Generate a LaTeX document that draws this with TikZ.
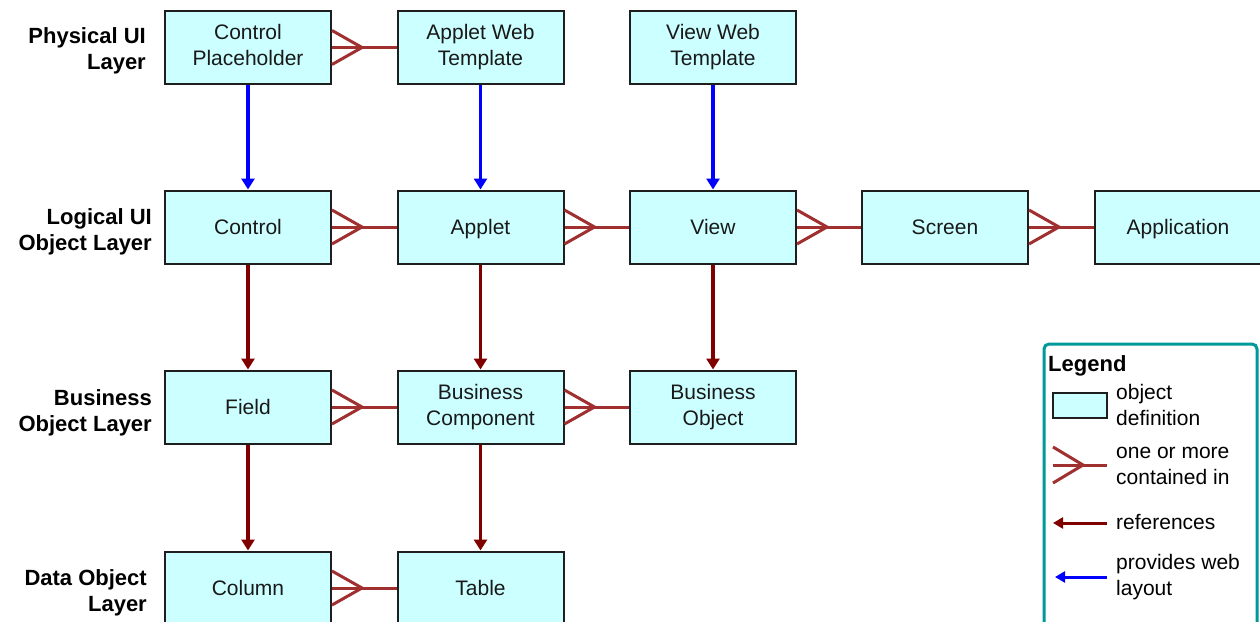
\documentclass[tikz,border=0pt]{standalone}
\usepackage{fontspec}
\setmainfont{Liberation Sans}
\usetikzlibrary{arrows.meta,calc}
\definecolor{boxfill}{RGB}{204,255,255}
\definecolor{boxline}{RGB}{30,30,30}
\definecolor{crowc}{RGB}{160,48,48}
\definecolor{refc}{RGB}{128,0,0}
\definecolor{webc}{RGB}{0,0,255}
\definecolor{legc}{RGB}{0,153,153}
\newcommand\crowfoot[2]{%
  \draw[crow] (#1.east) -- (#2.west);
  \draw[crow] ($(#1.east)+(0,-17)$) -- ($(#1.east)+(30,0)$) -- ($(#1.east)+(0,17)$);}
\begin{document}
\begin{tikzpicture}[x=1pt,y=-1pt,
  obj/.style={draw=boxline,line width=2pt,fill=boxfill,minimum width=166pt,minimum height=73pt,
    inner sep=0pt,align=center,text=black!90,font=\fontsize{21}{26}\selectfont},
  oneline/.style={text height=15.6pt,text depth=0pt},
  layer/.style={anchor=east,align=right,inner sep=0pt,font=\fontsize{22}{26}\selectfont\bfseries},
  legtext/.style={anchor=west,align=left,inner sep=0pt,font=\fontsize{21}{26}\selectfont},
  crow/.style={draw=crowc,line width=3pt,line join=miter},
  refarrow/.style={draw=refc,line width=3.5pt,-{Triangle[width=13pt,length=11pt]}},
  webarrow/.style={draw=webc,line width=3.5pt,-{Triangle[width=13pt,length=11pt]}},
]
\useasboundingbox (0,0) rectangle (1260,621);
\clip (0,0) rectangle (1260,621);
\fill[white] (0,0) rectangle (1260,621);

% layer labels
\node[layer] (l1) at (146,51) {Physical UI\\Layer};
\node[layer] (l2) at (152,231.5) {Logical UI\\Object Layer};
\node[layer] (l3) at (152,412.5) {Business\\Object Layer};
\node[layer] (l4) at (147,592.5) {Data Object\\Layer};

% boxes
\node[obj] (cph) at (248,47.5) {Control\\Placeholder\vphantom{p}};
\node[obj] (awt) at (480.5,47.5) {Applet Web\\Template};
\node[obj] (vwt) at (713,47.5) {View Web\\Template};
\node[obj,oneline] (ctl) at (248,227) {Control};
\node[obj,oneline] (apl) at (480.5,227) {Applet};
\node[obj,oneline] (vie) at (713,227) {View};
\node[obj,oneline] (scr) at (945,227) {Screen};
\node[obj,oneline,minimum width=170pt] (app) at (1180,227) {\hspace*{-4pt}Application};
\node[obj,oneline] (fld) at (248,407) {Field};
\node[obj] (bc) at (480.5,407) {Business\\Component};
\node[obj] (bo) at (713,407) {Business\\Object};
\node[obj,oneline] (col) at (248,588) {Column};
\node[obj,oneline] (tab) at (480.5,588) {Table};

% web layout arrows
\draw[webarrow] (cph.south) -- (ctl.north);
\draw[webarrow] (awt.south) -- (apl.north);
\draw[webarrow] (vwt.south) -- (vie.north);
% references
\draw[refarrow] (ctl.south) -- (fld.north);
\draw[refarrow] (apl.south) -- (bc.north);
\draw[refarrow] (vie.south) -- (bo.north);
\draw[refarrow] (fld.south) -- (col.north);
\draw[refarrow] (bc.south) -- (tab.north);
% contained in
\crowfoot{cph}{awt}
\crowfoot{ctl}{apl}
\crowfoot{apl}{vie}
\crowfoot{vie}{scr}
\crowfoot{scr}{app}
\crowfoot{fld}{bc}
\crowfoot{bc}{bo}
\crowfoot{col}{tab}

% legend
\draw[draw=legc,line width=3pt,rounded corners=5pt,fill=white] (1044,344) rectangle (1257,700);
\node[anchor=west,inner sep=0pt,font=\fontsize{22}{26}\selectfont\bfseries] (lg) at (1048,366) {Legend};
\node[draw=boxline,line width=2pt,fill=boxfill,minimum width=54pt,minimum height=25pt,inner sep=0pt] (lbox) at (1080,405.5) {};
\node[legtext] (t1) at (1116,405) {object\\definition};
\coordinate (c1a) at (1053,465);
\coordinate (c1b) at (1107,465);
\draw[crow] (c1a) -- (c1b);
\draw[crow] ($(c1a)+(0,-18)$) -- ($(c1a)+(30,0)$) -- ($(c1a)+(0,18)$);
\node[legtext] (t2) at (1116,466) {one or more\\contained in};
\coordinate (r1a) at (1107,523);
\coordinate (r1b) at (1053,523);
\draw[refarrow,line width=3pt,-{Triangle[width=11pt,length=10pt]}] (r1a) -- (r1b);
\node[legtext] (t3) at (1116,522) {references};
\coordinate (w1a) at (1107,577);
\coordinate (w1b) at (1055,577);
\draw[webarrow,line width=3pt,-{Triangle[width=11pt,length=10pt]}] (w1a) -- (w1b);
\node[legtext] (t4) at (1116,577) {provides web\\layout};
\end{tikzpicture}
\end{document}
